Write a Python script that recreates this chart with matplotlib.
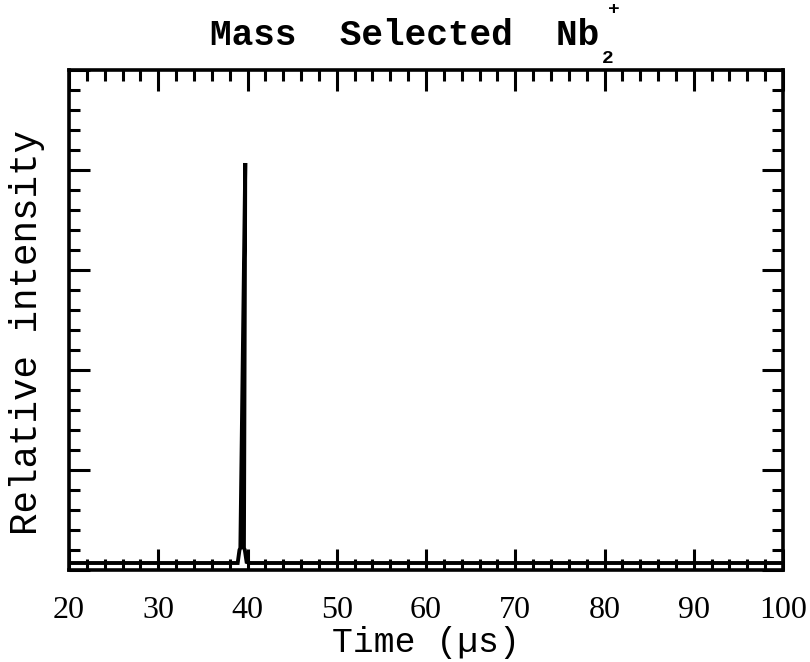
import matplotlib
matplotlib.use("Agg")
import matplotlib.pyplot as plt
from matplotlib.ticker import MultipleLocator, NullFormatter

# Data (time in microseconds, relative intensity)
time_us = [20, 25, 30, 35, 38, 38.9, 39.1, 39.2, 39.75, 39.6, 39.7, 39.9, 40.3, 45, 50,
           60, 70, 80, 90, 100]
intensity = [0.07, 0.07, 0.07, 0.07, 0.07, 0.07, 0.2, 0.22, 4.07, 0.22, 0.2, 0.08, 0.07,
             0.07, 0.07, 0.07, 0.07, 0.07, 0.07, 0.07]

x_ticks = [20, 30, 40, 50, 60, 70, 80, 90, 100]

W, H = 810, 662
fig = plt.figure(figsize=(W / 100, H / 100), dpi=100)
ax = fig.add_axes([69 / W, (H - 570) / H, 714 / W, 500 / H])

ax.plot(time_us, intensity, color="black", lw=2.8, solid_joinstyle="miter")

ax.set_xlim(20, 100)
ax.set_ylim(0, 5)
ax.set_xticks(x_ticks)
ax.xaxis.set_minor_locator(MultipleLocator(2))
ax.yaxis.set_major_locator(MultipleLocator(1))
ax.yaxis.set_minor_locator(MultipleLocator(0.2))
ax.yaxis.set_major_formatter(NullFormatter())

ax.tick_params(which="both", direction="in", top=True, right=True, width=2.2, color="black")
ax.tick_params(which="major", length=15)
ax.tick_params(which="minor", length=8)
ax.tick_params(axis="x", which="major", pad=18.5, labelsize=23)
for lab in ax.get_xticklabels():
    lab.set_fontfamily("Liberation Serif")
for sp in ax.spines.values():
    sp.set_linewidth(2.6)

ax.set_xlabel("Time (µs)", fontfamily="Liberation Mono", fontsize=25)
ax.xaxis.set_label_coords(0.5, -0.112)
ax.set_ylabel("Relative intensity", fontfamily="Liberation Mono", fontsize=27)
ax.yaxis.set_label_coords(-0.033, 0.475)

# title with subscript / superscript pieces
fig.text(210 / W, 1 - 45 / H, "Mass  Selected  Nb", fontfamily="Liberation Mono",
         fontweight="bold", fontsize=26, ha="left", va="baseline")
fig.text(602 / W, 1 - 63 / H, "2", fontfamily="Liberation Mono", fontweight="bold",
         fontsize=14, ha="left", va="baseline")
fig.text(608 / W, 1 - 14 / H, "+", fontfamily="Liberation Mono", fontweight="bold",
         fontsize=14, ha="left", va="baseline")

fig.savefig("out.png", dpi=100)
